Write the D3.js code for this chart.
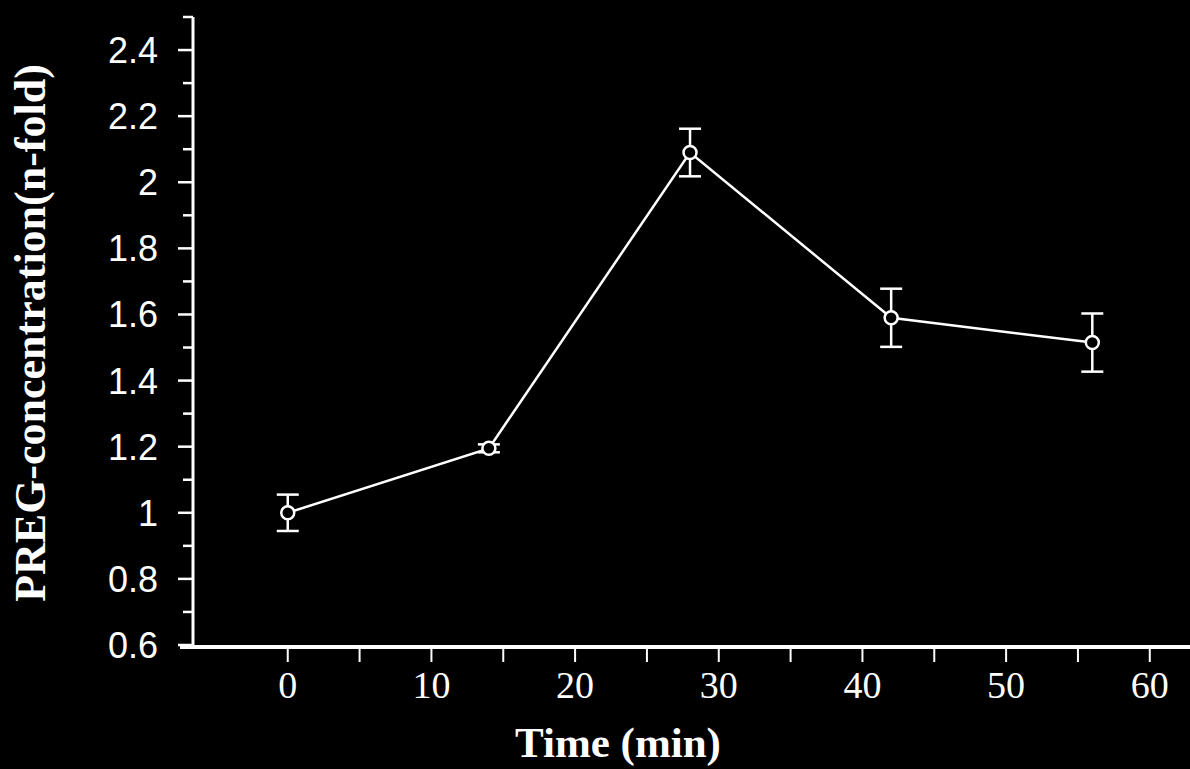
<!DOCTYPE html>
<html>
<head>
<meta charset="utf-8">
<script src="https://cdn.jsdelivr.net/npm/d3@7"></script>
<style>
  body { margin: 0; background: #000; }
  svg { display: block; background: #000; }
</style>
</head>
<body>
<div id="chart"></div>
<script>
var width = 1190,
    height = 769;

// data
var times = [0, 14, 28, 42, 56];
var means = [1.0, 1.195, 2.09, 1.59, 1.515];
var errs = [0.055, 0.012, 0.072, 0.088, 0.088];
var yTicks = [0.6, 0.8, 1, 1.2, 1.4, 1.6, 1.8, 2, 2.2, 2.4];
var xTicks = [0, 10, 20, 30, 40, 50, 60];

var data = times.map(function(t, i) { return {t: t, v: means[i], e: errs[i]}; });

var svg = d3.select("#chart").append("svg")
    .attr("width", width)
    .attr("height", height);

var x = d3.scaleLinear().domain([-7.5, 62.8]).range([180, 1190]);
var y = d3.scaleLinear().domain([0.6, 2.5]).range([645, 17]);

// y axis
var yAxis = svg.append("g").attr("transform", "translate(193,0)");
yAxis.append("line")
    .attr("x1", 0).attr("x2", 0)
    .attr("y1", y(2.5)).attr("y2", y(0.6) + 2)
    .attr("stroke", "#fff").attr("stroke-width", 3);

yAxis.selectAll(".minor")
    .data(d3.range(0.7, 2.55, 0.2))
    .enter().append("line")
      .attr("x1", -10).attr("x2", 0)
      .attr("y1", function(d) { return y(d); })
      .attr("y2", function(d) { return y(d); })
      .attr("stroke", "#fff").attr("stroke-width", 2.5);

yAxis.selectAll(".major")
    .data(yTicks)
    .enter().append("line")
      .attr("x1", -15).attr("x2", 0)
      .attr("y1", function(d) { return y(d); })
      .attr("y2", function(d) { return y(d); })
      .attr("stroke", "#fff").attr("stroke-width", 2.5);

yAxis.selectAll("text")
    .data(yTicks)
    .enter().append("text")
      .attr("x", -35)
      .attr("y", function(d) { return y(d) + 13; })
      .attr("text-anchor", "end")
      .attr("fill", "#fff")
      .style("font-family", "'Liberation Sans', Arial, sans-serif")
      .style("font-size", "36px")
      .text(function(d) { return d; });

// x axis
var xAxis = svg.append("g").attr("transform", "translate(0,647)");
xAxis.append("line")
    .attr("x1", 180).attr("x2", width)
    .attr("y1", 0).attr("y2", 0)
    .attr("stroke", "#fff").attr("stroke-width", 4);

xAxis.selectAll(".tick")
    .data(d3.range(0, 61, 5))
    .enter().append("line")
      .attr("x1", function(d) { return x(d); })
      .attr("x2", function(d) { return x(d); })
      .attr("y1", 0).attr("y2", 15)
      .attr("stroke", "#fff").attr("stroke-width", 2);

xAxis.selectAll("text")
    .data(xTicks)
    .enter().append("text")
      .attr("x", function(d) { return x(d); })
      .attr("y", 51)
      .attr("text-anchor", "middle")
      .attr("fill", "#fff")
      .style("font-family", "'Liberation Serif', 'Times New Roman', serif")
      .style("font-size", "38px")
      .text(function(d) { return d; });

// axis titles
svg.append("text")
    .attr("transform", "translate(45,333) rotate(-90)")
    .attr("text-anchor", "middle")
    .attr("fill", "#fff")
    .style("font-family", "'Liberation Serif', 'Times New Roman', serif")
    .style("font-weight", "bold")
    .style("font-size", "44px")
    .text("PREG-concentration(n-fold)");

svg.append("text")
    .attr("x", 618)
    .attr("y", 757)
    .attr("text-anchor", "middle")
    .attr("fill", "#fff")
    .style("font-family", "'Liberation Serif', 'Times New Roman', serif")
    .style("font-weight", "bold")
    .style("font-size", "43px")
    .text("Time (min)");

// line
var line = d3.line()
    .x(function(d) { return x(d.t); })
    .y(function(d) { return y(d.v); });

svg.append("path")
    .datum(data)
    .attr("d", line)
    .attr("fill", "none")
    .attr("stroke", "#fff")
    .attr("stroke-width", 2.5);

// error bars
var bars = svg.append("g").selectAll("g")
    .data(data)
    .enter().append("g")
      .attr("stroke", "#fff")
      .attr("stroke-width", 2.5);

bars.append("line")
    .attr("x1", function(d) { return x(d.t); })
    .attr("x2", function(d) { return x(d.t); })
    .attr("y1", function(d) { return y(d.v + d.e); })
    .attr("y2", function(d) { return y(d.v - d.e); });

bars.append("line")
    .attr("x1", function(d) { return x(d.t) - 11; })
    .attr("x2", function(d) { return x(d.t) + 11; })
    .attr("y1", function(d) { return y(d.v + d.e); })
    .attr("y2", function(d) { return y(d.v + d.e); });

bars.append("line")
    .attr("x1", function(d) { return x(d.t) - 11; })
    .attr("x2", function(d) { return x(d.t) + 11; })
    .attr("y1", function(d) { return y(d.v - d.e); })
    .attr("y2", function(d) { return y(d.v - d.e); });

// points
svg.append("g").selectAll("circle")
    .data(data)
    .enter().append("circle")
      .attr("cx", function(d) { return x(d.t); })
      .attr("cy", function(d) { return y(d.v); })
      .attr("r", 6.5)
      .attr("fill", "#000")
      .attr("stroke", "#fff")
      .attr("stroke-width", 2.5);
</script>
</body>
</html>
